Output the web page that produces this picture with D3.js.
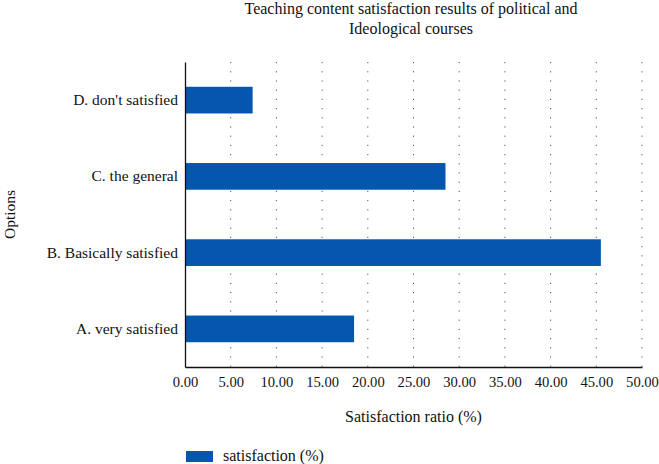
<!DOCTYPE html>
<html>
<head>
<meta charset="utf-8">
<script src="https://cdn.jsdelivr.net/npm/d3@7"></script>
<style>
  body { margin: 0; background: #fff; }
  svg text { font-family: "Liberation Serif", "Times New Roman", serif; fill: #111; }
</style>
</head>
<body>
<div id="chart"></div>
<script>
// Values
const categories = ["D. don't satisfied", "C. the general", "B. Basically satisfied", "A. very satisfied"];
const values = [7.4, 28.5, 45.5, 18.5];
const xTicks = [0, 5, 10, 15, 20, 25, 30, 35, 40, 45, 50];
const titleLines = ["Teaching content satisfaction results of political and", "Ideological courses"];
const seriesName = "satisfaction (%)";

const width = 659, height = 464;
const margin = {top: 62, right: 17, bottom: 97, left: 185};
const innerW = width - margin.left - margin.right;
const innerH = height - margin.top - margin.bottom;
const barColor = "#0456ae";
const serif = "'Liberation Serif', 'Times New Roman', serif";

const svg = d3.select("#chart")
    .append("svg")
    .attr("width", width)
    .attr("height", height);

const g = svg.append("g")
    .attr("transform", `translate(${margin.left},${margin.top})`);

const x = d3.scaleLinear()
    .domain([0, 50])
    .range([0, innerW]);

const y = d3.scaleBand()
    .domain(categories)
    .range([0, innerH])
    .paddingInner(0.65)
    .paddingOuter(0.325);

// dotted vertical grid lines
g.append("g")
    .selectAll("line")
    .data(xTicks.filter(d => d > 0))
    .enter()
    .append("line")
    .attr("x1", d => x(d))
    .attr("x2", d => x(d))
    .attr("y1", 0)
    .attr("y2", innerH)
    .attr("stroke", "#555")
    .attr("stroke-width", 1)
    .attr("stroke-dasharray", "1.2,8");

// bars
g.selectAll("rect.bar")
    .data(values)
    .enter()
    .append("rect")
    .attr("class", "bar")
    .attr("x", 0)
    .attr("y", (d, i) => y(categories[i]))
    .attr("width", d => x(d))
    .attr("height", y.bandwidth())
    .attr("fill", barColor);

// x axis (no tick marks)
const xAxis = g.append("g")
    .attr("transform", `translate(0,${innerH})`)
    .call(d3.axisBottom(x).tickValues(xTicks).tickFormat(d3.format(".2f")).tickSize(0).tickPadding(10));
xAxis.attr("font-family", null).attr("font-size", null);
xAxis.select(".domain").attr("stroke", "#111").attr("stroke-width", 1.3);
xAxis.selectAll("text").style("font-size", "14.6px").style("font-family", serif);

// y axis (no tick marks)
const yAxis = g.append("g")
    .call(d3.axisLeft(y).tickSize(0).tickPadding(7));
yAxis.attr("font-family", null).attr("font-size", null);
yAxis.select(".domain").attr("stroke", "#111").attr("stroke-width", 1.3);
yAxis.selectAll("text").style("font-size", "15.5px").style("font-family", serif);

// title
svg.append("text")
    .attr("x", 411)
    .attr("y", 14)
    .attr("text-anchor", "middle")
    .style("font-size", "16px")
    .selectAll("tspan")
    .data(titleLines)
    .enter()
    .append("tspan")
    .attr("x", 411)
    .attr("dy", (d, i) => i === 0 ? 0 : 20)
    .text(d => d);

// axis titles
svg.append("text")
    .attr("x", margin.left + innerW / 2)
    .attr("y", 422)
    .attr("text-anchor", "middle")
    .style("font-size", "16px")
    .text("Satisfaction ratio (%)");

svg.append("text")
    .attr("transform", `translate(15,${margin.top + innerH / 2}) rotate(-90)`)
    .attr("text-anchor", "middle")
    .style("font-size", "15.5px")
    .text("Options");

// legend
const legend = svg.append("g")
    .attr("transform", "translate(186,451)");
legend.append("rect")
    .attr("width", 27)
    .attr("height", 11)
    .attr("fill", barColor);
legend.append("text")
    .attr("x", 37)
    .attr("y", 10)
    .style("font-size", "16px")
    .text(seriesName);
</script>
</body>
</html>
